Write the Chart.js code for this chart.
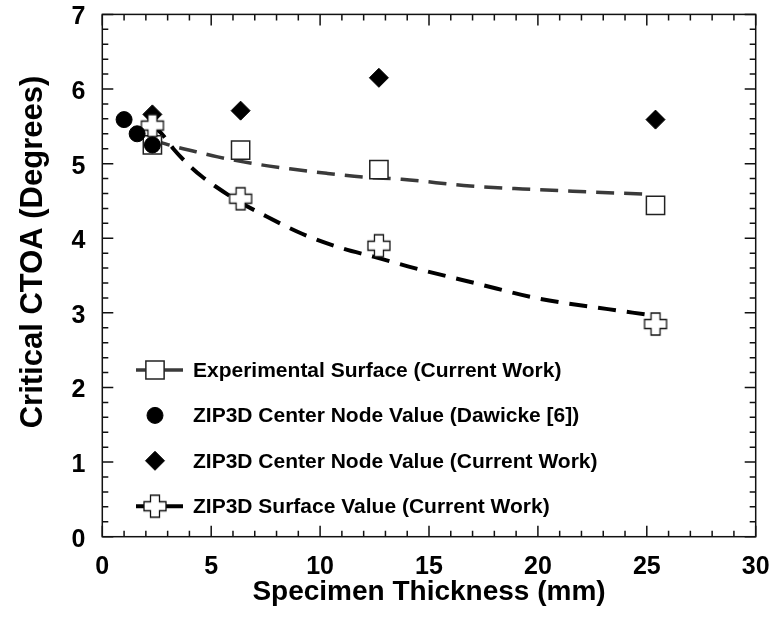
<!DOCTYPE html>
<html>
<head>
<meta charset="utf-8">
<script src="https://cdn.jsdelivr.net/npm/chart.js@4.4.1/dist/chart.umd.min.js"></script>
<style>
  body { margin: 0; background: #fff; }
  #wrap { width: 773px; height: 624px; }
</style>
</head>
<body>
<div id="wrap"><canvas id="ctoaChart" width="773" height="624"></canvas></div>
<script>
// thickness (mm) for the current-work specimens
var thickness = [2.3, 6.35, 12.7, 25.4];
var expSurface = [5.25, 5.18, 4.92, 4.44];
var centerNode = [5.66, 5.71, 6.15, 5.59];
var surfaceZip = [5.51, 4.53, 3.90, 2.85];

// Dawicke [6] center node values
var dawickeX = [1.0, 1.6, 2.3];
var dawickeCTOA = [5.59, 5.40, 5.25];

// dashed trend curves
var expFitX = [2.3, 3.3, 4.3, 5.3, 6.35, 7.6, 8.6, 10.3, 12.0, 13.75, 16.9, 19.3, 21.6, 24.95];
var expFitY = [5.32, 5.23, 5.16, 5.09, 5.03, 4.97, 4.93, 4.87, 4.82, 4.79, 4.70, 4.66, 4.63, 4.59];
var zipFitX = [2.3, 2.73, 3.26, 3.87, 4.56, 5.17, 6.34, 7.29, 9.17, 11.07, 12.49, 14.07, 17.23, 20.06, 23.22, 24.9];
var zipFitY = [5.52, 5.40, 5.20, 5.01, 4.83, 4.70, 4.48, 4.33, 4.06, 3.86, 3.75, 3.62, 3.39, 3.19, 3.05, 2.98];

var xTicks = [0, 5, 10, 15, 20, 25, 30];
var yTicks = [0, 1, 2, 3, 4, 5, 6, 7];

var legendLabels = [
    'Experimental Surface (Current Work)',
    'ZIP3D Center Node Value (Dawicke [6])',
    'ZIP3D Center Node Value (Current Work)',
    'ZIP3D Surface Value (Current Work)'
];

var FONT = '"Liberation Sans", Arial, Helvetica, sans-serif';

function pairs(xs, ys) {
    return xs.map(function (v, i) { return { x: v, y: ys[i] }; });
}

// hollow "plus" marker
function makeCross() {
    var c = document.createElement('canvas');
    c.width = 26; c.height = 26;
    var g = c.getContext('2d');
    var a = 11, b = 4.5, o = 13;
    var pts = [[-b, -a], [b, -a], [b, -b], [a, -b], [a, b], [b, b], [b, a], [-b, a], [-b, b], [-a, b], [-a, -b], [-b, -b]];
    g.beginPath();
    pts.forEach(function (p, i) {
        if (i) g.lineTo(o + p[0], o + p[1]); else g.moveTo(o + p[0], o + p[1]);
    });
    g.closePath();
    g.fillStyle = '#fff';
    g.fill();
    g.lineWidth = 1.3;
    g.strokeStyle = '#111';
    g.stroke();
    return c;
}
var crossImg = makeCross();

var markers = {
    square: { pointStyle: 'rect', radius: 12.9, borderWidth: 1.5, bg: '#fff', border: '#222' },
    circle: { pointStyle: 'circle', radius: 8, borderWidth: 1, bg: '#000', border: '#000' },
    diamond: { pointStyle: 'rectRot', radius: 9.5, borderWidth: 1, bg: '#000', border: '#000' },
    cross: { pointStyle: crossImg, radius: 11, borderWidth: 0, bg: '#fff', border: '#111' }
};

function markerSet(label, data, m, order) {
    return {
        label: label,
        data: data,
        showLine: false,
        pointStyle: m.pointStyle,
        pointRadius: m.radius,
        pointBorderWidth: m.borderWidth,
        pointBackgroundColor: m.bg,
        pointBorderColor: m.border,
        order: order
    };
}

// no extra room for overflowing tick labels, layout padding decides
function noOverflow(s) {
    s.paddingLeft = 0; s.paddingRight = 0; s.paddingTop = 0; s.paddingBottom = 0;
}

// box with inward ticks, axis titles and the legend
var framePlugin = {
    id: 'frame',
    afterDraw: function (chart) {
        var ctx = chart.ctx, a = chart.chartArea, x = chart.scales.x, y = chart.scales.y;
        ctx.save();
        ctx.setLineDash([]);
        ctx.strokeStyle = '#111';
        ctx.lineWidth = 1.5;
        ctx.strokeRect(a.left, a.top, a.right - a.left, a.bottom - a.top);
        ctx.beginPath();
        var v, px, len;
        for (v = 0; v <= 30; v++) {
            px = x.getPixelForValue(v);
            len = v % 5 === 0 ? 11 : 6;
            ctx.moveTo(px, a.bottom); ctx.lineTo(px, a.bottom - len);
            ctx.moveTo(px, a.top); ctx.lineTo(px, a.top + len);
        }
        for (var i = 0; i <= 35; i++) {
            px = y.getPixelForValue(i / 5);
            len = i % 5 === 0 ? 11 : 6;
            ctx.moveTo(a.left, px); ctx.lineTo(a.left + len, px);
            ctx.moveTo(a.right, px); ctx.lineTo(a.right - len, px);
        }
        ctx.stroke();

        // axis titles
        ctx.fillStyle = '#000';
        ctx.textAlign = 'center';
        ctx.textBaseline = 'middle';
        ctx.font = 'bold 28px ' + FONT;
        ctx.fillText('Specimen Thickness (mm)', (a.left + a.right) / 2, 592);
        ctx.save();
        ctx.translate(33, 252);
        ctx.rotate(-Math.PI / 2);
        ctx.font = 'bold 31px ' + FONT;
        ctx.fillText('Critical CTOA (Degrees)', 0, 0);
        ctx.restore();

        // legend
        var rows = [
            { m: markers.square, line: { color: '#3a3a3a', width: 3.5 } },
            { m: markers.circle },
            { m: markers.diamond },
            { m: markers.cross, line: { color: '#000', width: 4 } }
        ];
        ctx.font = 'bold 21px ' + FONT;
        ctx.textAlign = 'left';
        rows.forEach(function (r, i) {
            var cy = 370 + i * 45.4, cx = 155;
            if (r.line) {
                ctx.beginPath();
                ctx.strokeStyle = r.line.color;
                ctx.lineWidth = r.line.width;
                ctx.moveTo(136, cy); ctx.lineTo(183, cy);
                ctx.stroke();
            }
            ctx.fillStyle = r.m.bg;
            ctx.strokeStyle = r.m.border;
            ctx.lineWidth = r.m.borderWidth;
            Chart.helpers.drawPoint(ctx, {
                pointStyle: r.m.pointStyle,
                radius: r.m.radius,
                rotation: 0,
                borderWidth: r.m.borderWidth
            }, cx, cy);
            ctx.fillStyle = '#000';
            ctx.fillText(legendLabels[i], 193, cy + 1);
        });
        ctx.restore();
    }
};

var ctx = document.getElementById('ctoaChart').getContext('2d');
var chart = new Chart(ctx, {
    type: 'scatter',
    data: {
        datasets: [
            markerSet(legendLabels[1], pairs(dawickeX, dawickeCTOA), markers.circle, 1),
            markerSet(legendLabels[3], pairs(thickness, surfaceZip), markers.cross, 2),
            markerSet(legendLabels[2], pairs(thickness, centerNode), markers.diamond, 3),
            markerSet(legendLabels[0], pairs(thickness, expSurface), markers.square, 4),
            {
                label: 'Experimental fit',
                data: pairs(expFitX, expFitY),
                showLine: true,
                pointRadius: 0,
                borderColor: '#3a3a3a',
                borderWidth: 3.5,
                borderDash: [18, 10],
                cubicInterpolationMode: 'monotone',
                order: 5
            },
            {
                label: 'ZIP3D surface fit',
                data: pairs(zipFitX, zipFitY),
                showLine: true,
                pointRadius: 0,
                borderColor: '#000',
                borderWidth: 4,
                borderDash: [18, 11],
                cubicInterpolationMode: 'monotone',
                order: 6
            }
        ]
    },
    options: {
        responsive: false,
        animation: false,
        devicePixelRatio: 1,
        events: [],
        layout: {
            padding: { top: 14, right: 17.3, left: 0, bottom: 0 }
        },
        plugins: {
            legend: { display: false },
            tooltip: { enabled: false }
        },
        scales: {
            x: {
                type: 'linear',
                min: 0,
                max: 30,
                afterBuildTicks: function (s) { s.ticks = xTicks.map(function (v) { return { value: v }; }); },
                afterFit: function (s) { s.height = 87.3; noOverflow(s); },
                grid: { display: false },
                border: { display: false },
                ticks: {
                    color: '#000',
                    padding: 7,
                    maxRotation: 0,
                    font: { family: FONT, size: 25, weight: 'bold', lineHeight: 1.2 }
                }
            },
            y: {
                type: 'linear',
                min: 0,
                max: 7,
                afterBuildTicks: function (s) { s.ticks = yTicks.map(function (v) { return { value: v }; }); },
                afterFit: function (s) { s.width = 102.3; noOverflow(s); },
                grid: { display: false },
                border: { display: false },
                ticks: {
                    color: '#000',
                    padding: 9,
                    labelOffset: 3,
                    font: { family: FONT, size: 25, weight: 'bold', lineHeight: 1 }
                }
            }
        }
    },
    plugins: [framePlugin]
});
</script>
</body>
</html>
